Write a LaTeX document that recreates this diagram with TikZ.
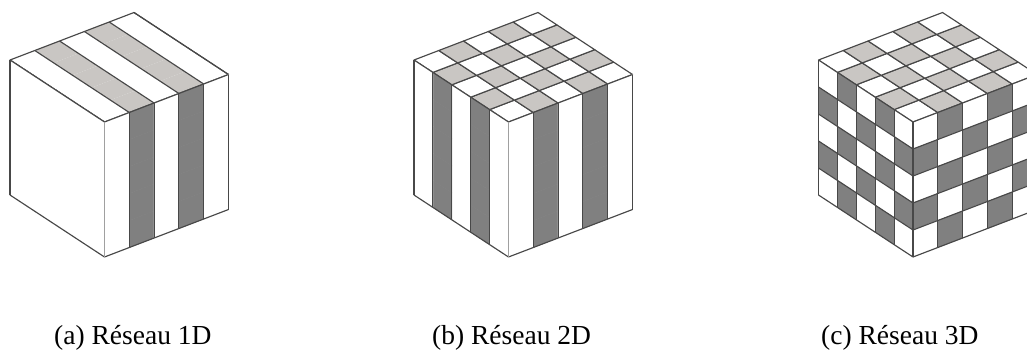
\documentclass[tikz,border=0pt]{standalone}
\usepackage{fontspec}
\usetikzlibrary{calc}
\setmainfont{Liberation Serif}
\definecolor{lightcell}{HTML}{C9C6C3}
\definecolor{darkcell}{HTML}{808080}
\definecolor{edgeline}{HTML}{484848}
\definecolor{frontline}{HTML}{A0A0A0}
\tikzset{
  cell/.style={draw=edgeline,line width=1.15pt,line join=round},
  caption/.style={inner sep=0pt,anchor=base west,font=\fontsize{27.5}{32}\selectfont}
}
% #1 left-top x, #2 mode (1,2,3), #3 front edge colour
\newcommand{\cubeface}[3]{%
  \begin{scope}[shift={(#1,0)}]
  \coordinate (F) at (94.5,122);
  \coordinate (U) at (24.8,-9.5);  % along front to right
  \coordinate (V) at (-18.9,-12.4);% along front to left
  \coordinate (H) at (0,27);       % downwards per row
  % top
  \foreach \i in {0,...,4}{\foreach \j in {0,...,4}{%
    \pgfmathtruncatemacro{\parity}{#2==1 ? mod(\i,2) : mod(\i+\j,2)}%
    \ifnum\parity=1 \def\fc{lightcell}\else\def\fc{white}\fi
    \ifnum#2=1
      \fill[\fc] ($(F)+\i*(U)+\j*(V)$) -- ++(U) -- ++(V) -- ++($-1*(U)$) -- cycle;
    \else
      \filldraw[cell,fill=\fc] ($(F)+\i*(U)+\j*(V)$) -- ++(U) -- ++(V) -- ++($-1*(U)$) -- cycle;
    \fi
  }}
  \ifnum#2=1
    \foreach \i in {0,...,5}{\draw[cell] ($(F)+\i*(U)$) -- ++($5*(V)$);}
    \draw[cell] (F) -- ++($5*(U)$) -- ++($5*(V)$) -- ++($-5*(U)$) -- cycle;
  \fi
  % right and left faces
  \foreach \r in {0,...,4}{\foreach \i in {0,...,4}{%
    \pgfmathtruncatemacro{\parity}{#2==3 ? mod(\i+\r,2) : mod(\i,2)}%
    \ifnum\parity=1 \def\fc{darkcell}\else\def\fc{white}\fi
    \filldraw[fill=\fc,draw=\fc,line width=0.4pt] ($(F)+\i*(U)+\r*(H)$) -- ++(U) -- ++(H) -- ++($-1*(U)$) -- cycle;
    \ifnum#2=1 \def\fd{white}\else\let\fd\fc\fi
    \filldraw[fill=\fd,draw=\fd,line width=0.4pt] ($(F)+\i*(V)+\r*(H)$) -- ++(V) -- ++(H) -- ++($-1*(V)$) -- cycle;
  }}
  % lines
  \foreach \i in {1,...,5}{\draw[cell] ($(F)+\i*(U)$) -- ++($5*(H)$);}
  \ifnum#2>1
    \foreach \i in {1,...,5}{\draw[cell] ($(F)+\i*(V)$) -- ++($5*(H)$);}
  \else
    \draw[cell] ($(F)+5*(V)$) -- ++($5*(H)$);
  \fi
  \ifnum#2=3
    \foreach \r in {1,...,4}{%
      \draw[cell] ($(F)+\r*(H)$) -- ++($5*(U)$);
      \draw[cell] ($(F)+\r*(H)$) -- ++($5*(V)$);
    }
  \fi
  \draw[cell] ($(F)+5*(H)$) -- ++($5*(U)$);
  \draw[cell] ($(F)+5*(H)$) -- ++($5*(V)$);
  \draw[cell] (F) -- ++($5*(U)$);
  \draw[cell] (F) -- ++($5*(V)$);
  \draw[cell,draw=#3,line width=1.3pt] (F) -- ++($5*(H)$);
  \end{scope}%
}
\begin{document}
\begin{tikzpicture}[x=1pt,y=-1pt]
  \useasboundingbox (0,0) rectangle (1027,349);
  \fill[white] (0,0) rectangle (1027,349);
  \begin{scope}
    \clip (0,0) rectangle (1027,349);
    \cubeface{10}{1}{frontline}
    \cubeface{414}{2}{frontline}
    \cubeface{818.5}{3}{edgeline}
  \end{scope}
  \node[caption] (capa) at (54,344) {(a) Réseau 1D};
  \node[caption] (capb) at (432,344) {(b) Réseau 2D};
  \node[caption] (capc) at (821,344) {(c) Réseau 3D};
\end{tikzpicture}
\end{document}
